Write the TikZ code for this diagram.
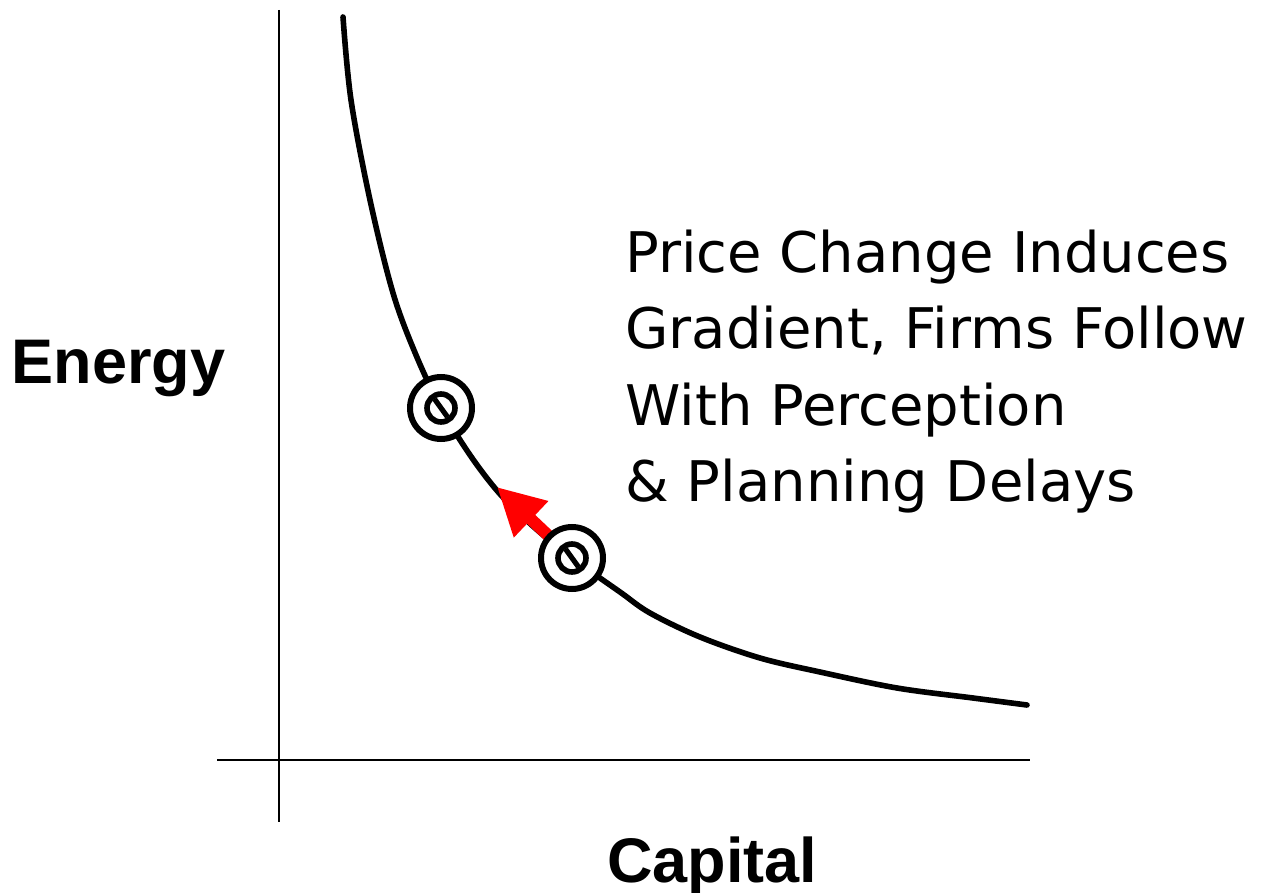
\documentclass[tikz,border=0pt]{standalone}
\usepackage{fontspec}
\setmainfont{DejaVu Sans}
\newfontfamily\axisfont{Liberation Sans}
\usetikzlibrary{arrows.meta}
\begin{document}
% one unit = one pixel, y grows downwards
\begin{tikzpicture}[x=0.5pt,y=-0.5pt,
  axis/.style={line width=1.35pt, black},
  isoquant/.style={line width=2.8pt, black, line cap=round, line join=round},
  axislabel/.style={anchor=base west, inner sep=0pt, font=\axisfont\bfseries\fontsize{31.5}{36}\selectfont},
  note/.style={anchor=base west, inner sep=0pt, font=\fontsize{28}{38}\selectfont},
  point/.style={circle, draw=black, fill=white, line width=3pt, minimum size=31pt, inner sep=0pt},
  movearrow/.style={draw=red, line width=6pt, -{Triangle[length=23.5pt, width=23.5pt]}}
]
\useasboundingbox (0,0) rectangle (1264,893);

% axes
\coordinate (yTop) at (279,10);
\coordinate (yBot) at (279,822);
\coordinate (xL) at (217,760);
\coordinate (xR) at (1030,760);
\draw[axis] (yTop) -- (yBot);
\draw[axis] (xL) -- (xR);

% isoquant
\draw[isoquant] plot[smooth, tension=0.55] coordinates {
  (343,17) (351,100) (370,200) (393,293) (416,355) (441,408)
  (470,455) (500,494) (535,528) (572,558) (620,592) (650,613)
  (700,637) (760,658) (820,672) (897,688) (973,698) (1027,705)};

% movement along the isoquant
\coordinate (tip) at (497,487);
\coordinate (c2pos) at (572,558);
\draw[movearrow] (c2pos) -- (tip);

% operating points
\foreach \n/\p in {c1/{(441,408)}, c2/{(572,558)}} {
  \node[point] (\n) at \p {};
  \draw[line width=2.8pt] (\n.center) circle (14);
  \draw[line width=2.6pt] (\n.center) ++(-6.5,-9) -- ++(13,18);
}

% labels
\node[axislabel] (energy) at (11.5,384) {Energy};
\node[axislabel] (capital) at (607,882) {Capital};
\node[note] (t1) at (625,273) {Price Change Induces};
\node[note] (t2) at (625,349) {Gradient, Firms Follow};
\node[note] (t3) at (625,425) {With Perception};
\node[note] (t4) at (625,501) {\& Planning Delays};
\end{tikzpicture}
\end{document}
